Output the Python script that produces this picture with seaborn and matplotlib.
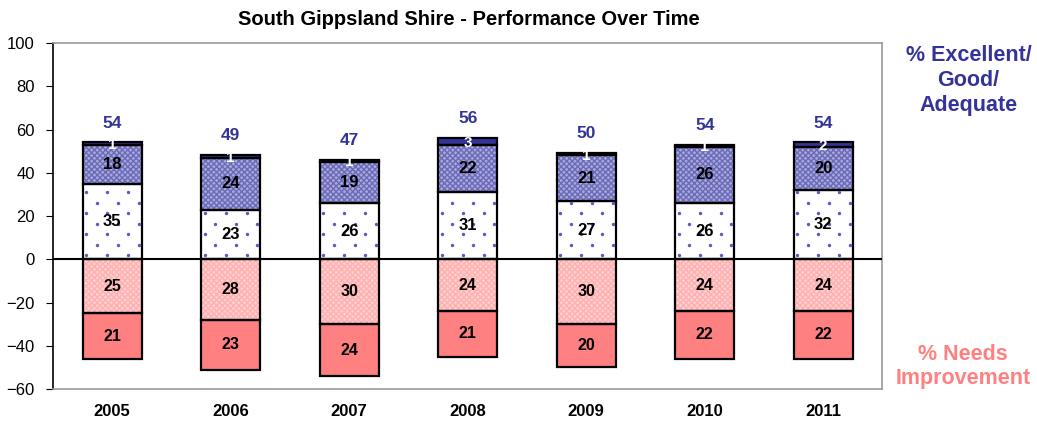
import numpy as np
import pandas as pd
import matplotlib
matplotlib.use("Agg")
import matplotlib.pyplot as plt
import seaborn as sns

years = ["2005", "2006", "2007", "2008", "2009", "2010", "2011"]
adequate = [35, 23, 26, 31, 27, 26, 32]
good = [18, 24, 19, 22, 21, 26, 20]
excellent = [1, 1, 1, 3, 1, 1, 2]
positive_totals = [54, 49, 47, 56, 50, 54, 54]
inadequate = [25, 28, 30, 24, 30, 24, 24]
very_poor = [21, 23, 24, 21, 20, 22, 22]

sns.set_style("white")
plt.rcParams["font.family"] = ["Liberation Sans", "DejaVu Sans"]
plt.rcParams["hatch.linewidth"] = 1.0
for k in ["text.color", "xtick.color", "ytick.color", "axes.labelcolor"]:
    plt.rcParams[k] = "black"

fig = plt.figure(figsize=(10.37, 4.25), dpi=100)
ax = fig.add_axes([0.051, 0.0847, 0.800, 0.8141])

adequate = np.array(adequate)
good = np.array(good)
excellent = np.array(excellent)
inadequate = np.array(inadequate)
very_poor = np.array(very_poor)

layers = [
    # values, bottom, face, hatch, hatch colour
    (adequate, np.zeros(7), "white", None, "white"),
    (good, adequate, "#a8a8dc", "xxxxxx", "#6a6ab8"),
    (excellent, adequate + good, "#333399", None, "#333399"),
    (-inadequate, np.zeros(7), "#ffd0d0", "xxxxxx", "#ffb0b0"),
    (-very_poor, -inadequate, "#ff8080", None, "#ff8080"),
]

W = 0.5
for vals, bottom, face, hatch, hcol in layers:
    sns.barplot(x=years, y=vals, bottom=bottom, color=face, saturation=1,
                width=W, edgecolor=hcol, linewidth=0, hatch=hatch,
                errorbar=None, ax=ax)

# sparse dot pattern inside the "adequate" segments
dx, dy = 0.177, 4.86
for i in range(7):
    xs, ys = [], []
    y = 1.8
    row = 0
    while y < adequate[i] - 0.5:
        x = i - W / 2 + 0.03 + (dx / 2 if row % 2 else 0)
        while x < i + W / 2 - 0.01:
            xs.append(x)
            ys.append(y)
            x += dx
        y += dy
        row += 1
    ax.scatter(xs, ys, s=6, color="#5a5ac0", linewidths=0, zorder=3)

for vals, bottom, face, hatch, hcol in layers:
    sns.barplot(x=years, y=vals, bottom=bottom, color="black", fill=False,
                saturation=1, width=W, linewidth=1.6, errorbar=None, ax=ax)

for i in range(7):
    ax.text(i, adequate[i] / 2, str(adequate[i]), ha="center", va="center",
            fontsize=12, fontweight="bold", zorder=6)
    ax.text(i, adequate[i] + good[i] / 2, str(good[i]), ha="center", va="center",
            fontsize=12, fontweight="bold", zorder=6)
    top = adequate[i] + good[i] + excellent[i]
    ax.text(i, top - excellent[i] / 2 - 0.6, str(excellent[i]), ha="center",
            va="center", fontsize=11, fontweight="bold", color="white", zorder=6)
    ax.text(i, top + 9, str(positive_totals[i]), ha="center", va="center",
            fontsize=12.5, fontweight="bold", color="#333399")
    ax.text(i, -inadequate[i] / 2, str(inadequate[i]), ha="center", va="center",
            fontsize=11.5, fontweight="bold", zorder=6)
    ax.text(i, -inadequate[i] - very_poor[i] / 2, str(very_poor[i]), ha="center",
            va="center", fontsize=11.5, fontweight="bold", zorder=6)

ax.axhline(0, color="black", linewidth=1.5, zorder=5)
ax.set_xlim(-0.5, 6.5)
ax.set_ylim(-60, 100)
ax.set_yticks(range(-60, 101, 20))
ax.set_xlabel("")
ax.set_ylabel("")
ax.tick_params(axis="y", labelsize=12, length=5, direction="out", left=True,
               pad=8)
ax.tick_params(axis="x", labelsize=12, length=0, pad=11)
for lab in ax.get_xticklabels():
    lab.set_fontweight("bold")

ax.spines["left"].set_color("black")
ax.spines["left"].set_linewidth(1.2)
for s in ["top", "right", "bottom"]:
    ax.spines[s].set_color("#999999")
    ax.spines[s].set_linewidth(1.2)

fig.text(0.452, 0.955, "South Gippsland Shire - Performance Over Time",
         ha="center", va="center", fontsize=14.5, fontweight="bold")
fig.text(0.934, 0.810, "% Excellent/\nGood/\nAdequate", ha="center",
         va="center", fontsize=15.5, fontweight="bold", color="#333399",
         linespacing=1.25)
fig.text(0.929, 0.138, "% Needs\nImprovement", ha="center", va="center",
         fontsize=15.5, fontweight="bold", color="#ff8080", linespacing=1.2)

fig.savefig("out.png", dpi=100)
